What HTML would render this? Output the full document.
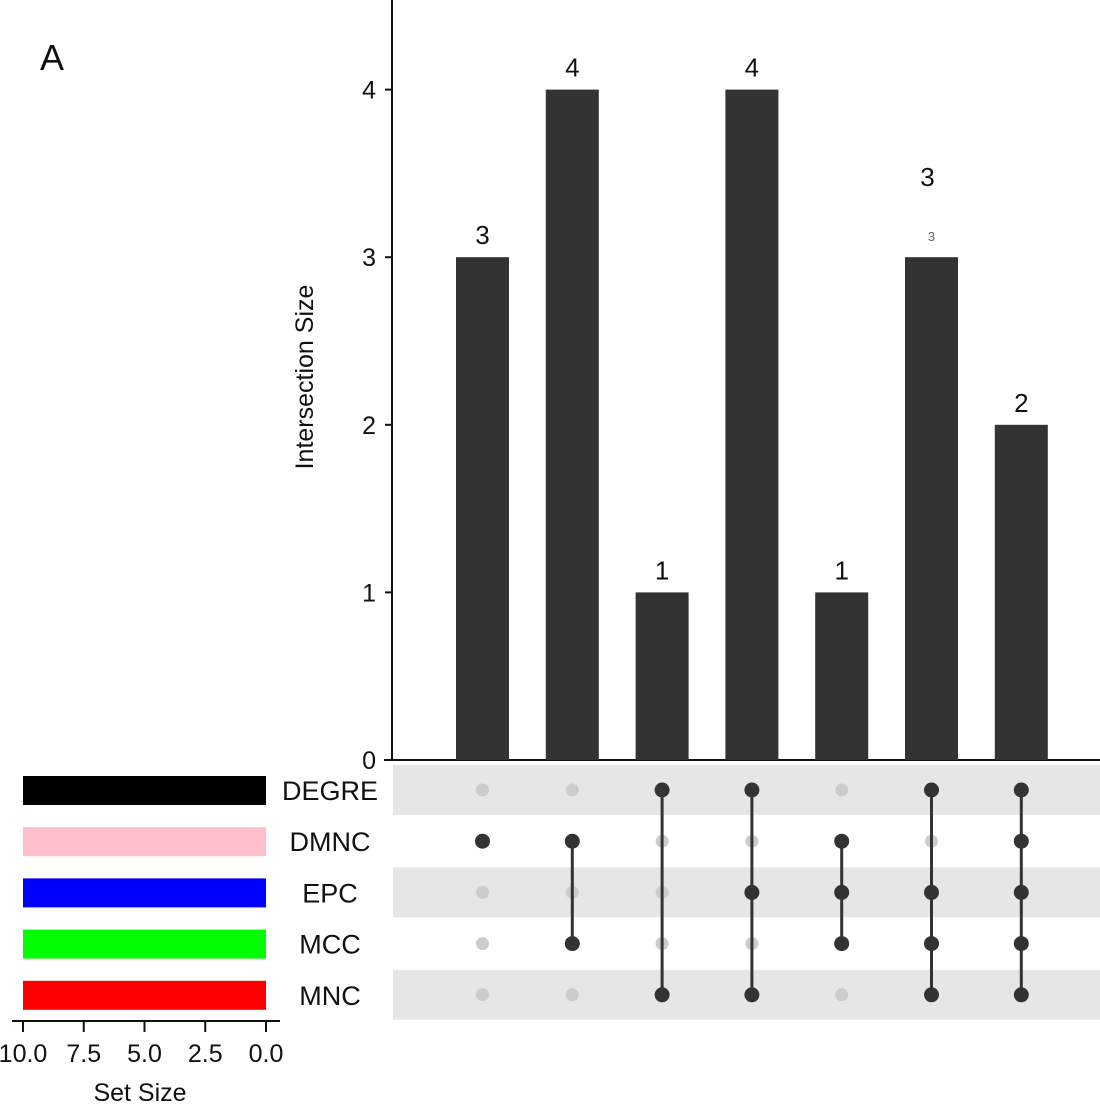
<!DOCTYPE html>
<html><head><meta charset="utf-8"><style>
html,body{margin:0;padding:0;background:#fff;}
svg{display:block;font-family:"Liberation Sans",Arial,sans-serif;}
</style></head><body>
<svg id="c" width="1100" height="1108" viewBox="0 0 1100 1108" xmlns="http://www.w3.org/2000/svg">
<text x="40" y="70" font-size="36" fill="#111">A</text>
</svg>
<script>
const sets = ["DEGRE","DMNC","EPC","MCC","MNC"];
const setSizes = [10,10,10,10,10];
const setColors = ["#000000","#ffc0cb","#0000ff","#00ff00","#ff0000"];
const intersectionSizes = [3,4,1,4,1,3,2];
const membership = [
  [0,1,0,0,0],
  [0,1,0,1,0],
  [1,0,0,0,1],
  [1,0,1,0,1],
  [0,1,1,1,0],
  [1,0,1,1,1],
  [1,1,1,1,1]
];
const yTicks = [0,1,2,3,4];
const setTicks = [10,7.5,5,2.5,0];

const svg = document.getElementById('c');
const NS = "http://www.w3.org/2000/svg";
function mk(tag, attrs, name, text){
  const e = document.createElementNS(NS, tag);
  for (const k in attrs) e.setAttribute(k, attrs[k]);
  
  
  if (text !== undefined) e.textContent = text;
  svg.appendChild(e);
  return e;
}
const y0 = 760, unit = 167.6;
const yScale = v => y0 - v * unit;
const xCenter = i => 482.5 + i * 89.8;
const rowY = j => 790 + j * 51.2;
const sx = v => 266 - v * 24.3;

sets.forEach((s,j)=>{ if (j%2===0) mk('rect',{x:393,y:rowY(j)-25,width:707,height:50,fill:'#e6e6e6'},'matrix-row-shade'); });

mk('line',{x1:392,y1:0,x2:392,y2:761,stroke:'#111','stroke-width':2},'y-axis-line');
mk('line',{x1:384,y1:760,x2:1100,y2:760,stroke:'#111','stroke-width':2},'x-axis-line');
yTicks.forEach(t=>{
  mk('line',{x1:385,y1:yScale(t),x2:392,y2:yScale(t),stroke:'#111','stroke-width':2},'y-tick');
  mk('text',{x:376,y:yScale(t)+9,'font-size':25,'text-anchor':'end',fill:'#111'},'y-tick-label',String(t));
});
mk('text',{x:0,y:0,'font-size':25,'text-anchor':'middle',fill:'#111',transform:'translate(313,377) rotate(-90)'},'y-axis-title','Intersection Size');

intersectionSizes.forEach((v,i)=>{
  mk('rect',{x:xCenter(i)-26.5,y:yScale(v),width:53,height:y0-yScale(v),fill:'#333333'},'bar-'+(i+1));
  if (i===5) {
    mk('text',{x:xCenter(i),y:yScale(v)-16,'font-size':13,'text-anchor':'middle',fill:'#666'},'bar-value-label',String(v));
    mk('text',{x:xCenter(i)-4,y:yScale(v)-71,'font-size':26,'text-anchor':'middle',fill:'#111'},'extra-label',String(v));
  } else {
    mk('text',{x:xCenter(i),y:yScale(v)-13,'font-size':26,'text-anchor':'middle',fill:'#111'},'bar-value-label',String(v));
  }
});

membership.forEach((m,i)=>{
  m.forEach((b,j)=>{ if(!b) mk('circle',{cx:xCenter(i),cy:rowY(j),r:6.5,fill:'#cccccc'},'matrix-dot-off'); });
  const on = m.map((b,j)=>b?j:-1).filter(j=>j>=0);
  if (on.length>1) mk('line',{x1:xCenter(i),y1:rowY(on[0]),x2:xCenter(i),y2:rowY(on[on.length-1]),stroke:'#333','stroke-width':3},'matrix-connector');
  m.forEach((b,j)=>{ if(b) mk('circle',{cx:xCenter(i),cy:rowY(j),r:7.5,fill:'#333333'},'matrix-dot-on'); });
});

sets.forEach((s,j)=>{
  mk('text',{x:330,y:rowY(j)+10,'font-size':27,'text-anchor':'middle',fill:'#111'},'set-label',s);
  mk('rect',{x:sx(setSizes[j]),y:rowY(j)-14,width:sx(0)-sx(setSizes[j]),height:29,fill:setColors[j]},'set-size-bar');
});
mk('line',{x1:12,y1:1021,x2:280,y2:1021,stroke:'#111','stroke-width':2},'set-size-axis');
setTicks.forEach(t=>{
  mk('line',{x1:sx(t),y1:1021,x2:sx(t),y2:1032,stroke:'#111','stroke-width':2},'set-size-tick');
  mk('text',{x:sx(t),y:1062,'font-size':25,'text-anchor':'middle',fill:'#111'},'set-size-tick-label',t.toFixed(1));
});
mk('text',{x:140,y:1101,'font-size':25,'text-anchor':'middle',fill:'#111'},'set-size-title','Set Size');
</script>
</body></html>
